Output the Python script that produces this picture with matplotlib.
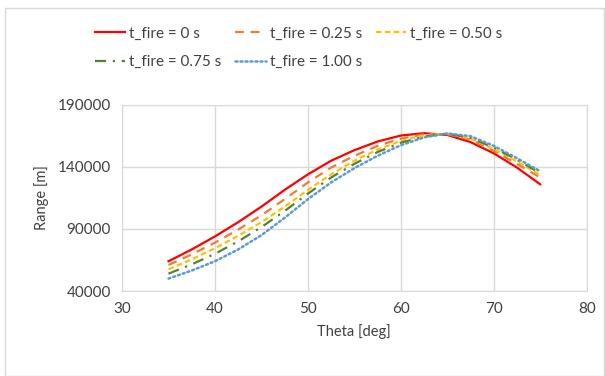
import matplotlib.pyplot as plt
from matplotlib.patches import Rectangle

# theta values and range per firing delay
theta = [35, 37.5, 40, 42.5, 45, 47.5, 50, 52.5, 55, 57.5, 60, 62.5, 65, 67.5, 70, 72.5, 75]
r_000 = [64000, 73500, 84000, 95500, 108000, 121500, 134000, 145000, 153500, 160500,
         165300, 167200, 165800, 160000, 151000, 139500, 126000]
r_025 = [61000, 69500, 79000, 89500, 101000, 114000, 127500, 139500, 149000, 157000,
         162800, 166300, 166500, 162000, 153000, 142500, 131500]
r_050 = [57500, 65500, 74500, 84500, 95500, 108000, 121500, 134000, 145000, 154000,
         161000, 165500, 166800, 163000, 154500, 144500, 133500]
r_075 = [54000, 61500, 70000, 80000, 91500, 104500, 118500, 131500, 142500, 152000,
         159500, 164500, 166800, 163500, 155500, 145800, 135000]
r_100 = [50000, 56500, 64000, 73500, 85000, 99000, 114000, 127500, 139000, 149000,
         157500, 163800, 167000, 164800, 157000, 147000, 136500]

labels = ['t_fire = 0 s', 't_fire = 0.25 s', 't_fire = 0.50 s', 't_fire = 0.75 s', 't_fire = 1.00 s']
x_ticks = [30, 40, 50, 60, 70, 80]
y_ticks = [40000, 90000, 140000, 190000]

plt.rcParams['font.family'] = ['Lato', 'DejaVu Sans']

fig = plt.figure(figsize=(6.05, 3.76), dpi=100)
fig.patches.append(Rectangle((0.008, 0.0), 0.99, 0.98, transform=fig.transFigure,
                             fill=False, edgecolor='#d9d9d9', linewidth=1))
ax = fig.add_axes([0.2017, 0.226, 0.768, 0.495])

l0, = ax.plot(theta, r_000, color='#ff0000', lw=1.6, ls='-', label=labels[0])
l1, = ax.plot(theta, r_025, color='#ed7d31', lw=1.6, ls=(0, (4, 3)), label=labels[1])
l2, = ax.plot(theta, r_050, color='#ffc000', lw=1.6, ls=(0, (2.5, 1.5)), label=labels[2])
l3, = ax.plot(theta, r_075, color='#548235', lw=1.6, ls=(0, (5, 3, 1, 3)), label=labels[3])
l4, = ax.plot(theta, r_100, color='#5b9bd5', lw=1.8, ls=(0, (0.8, 1.2)),
              dash_capstyle='round', label=labels[4])

ax.set_xlim(30, 80)
ax.set_ylim(40000, 190000)
ax.set_xticks(x_ticks)
ax.set_yticks(y_ticks)
ax.grid(True, color='#d9d9d9', lw=1)
ax.set_axisbelow(True)
for s in ax.spines.values():
    s.set_color('#d9d9d9')
ax.tick_params(length=0, labelsize=11, colors='#404040', pad=8)
ax.set_xlabel('Theta [deg]', fontsize=10.5, color='#404040', labelpad=6)
ax.set_ylabel('Range [m]', fontsize=10.5, color='#404040', labelpad=6)

# row-major order like excel: columns get (0,3), (1,4), (2)
order = [l0, l3, l1, l4, l2]
fig.legend(order, [h.get_label() for h in order], loc='upper left',
           bbox_to_anchor=(0.134, 0.966), ncol=3, frameon=False,
           fontsize=11, handlelength=2.0, handletextpad=0.25, columnspacing=0.9,
           labelspacing=0.95, labelcolor='#404040')

fig.savefig('out.png', dpi=100)
